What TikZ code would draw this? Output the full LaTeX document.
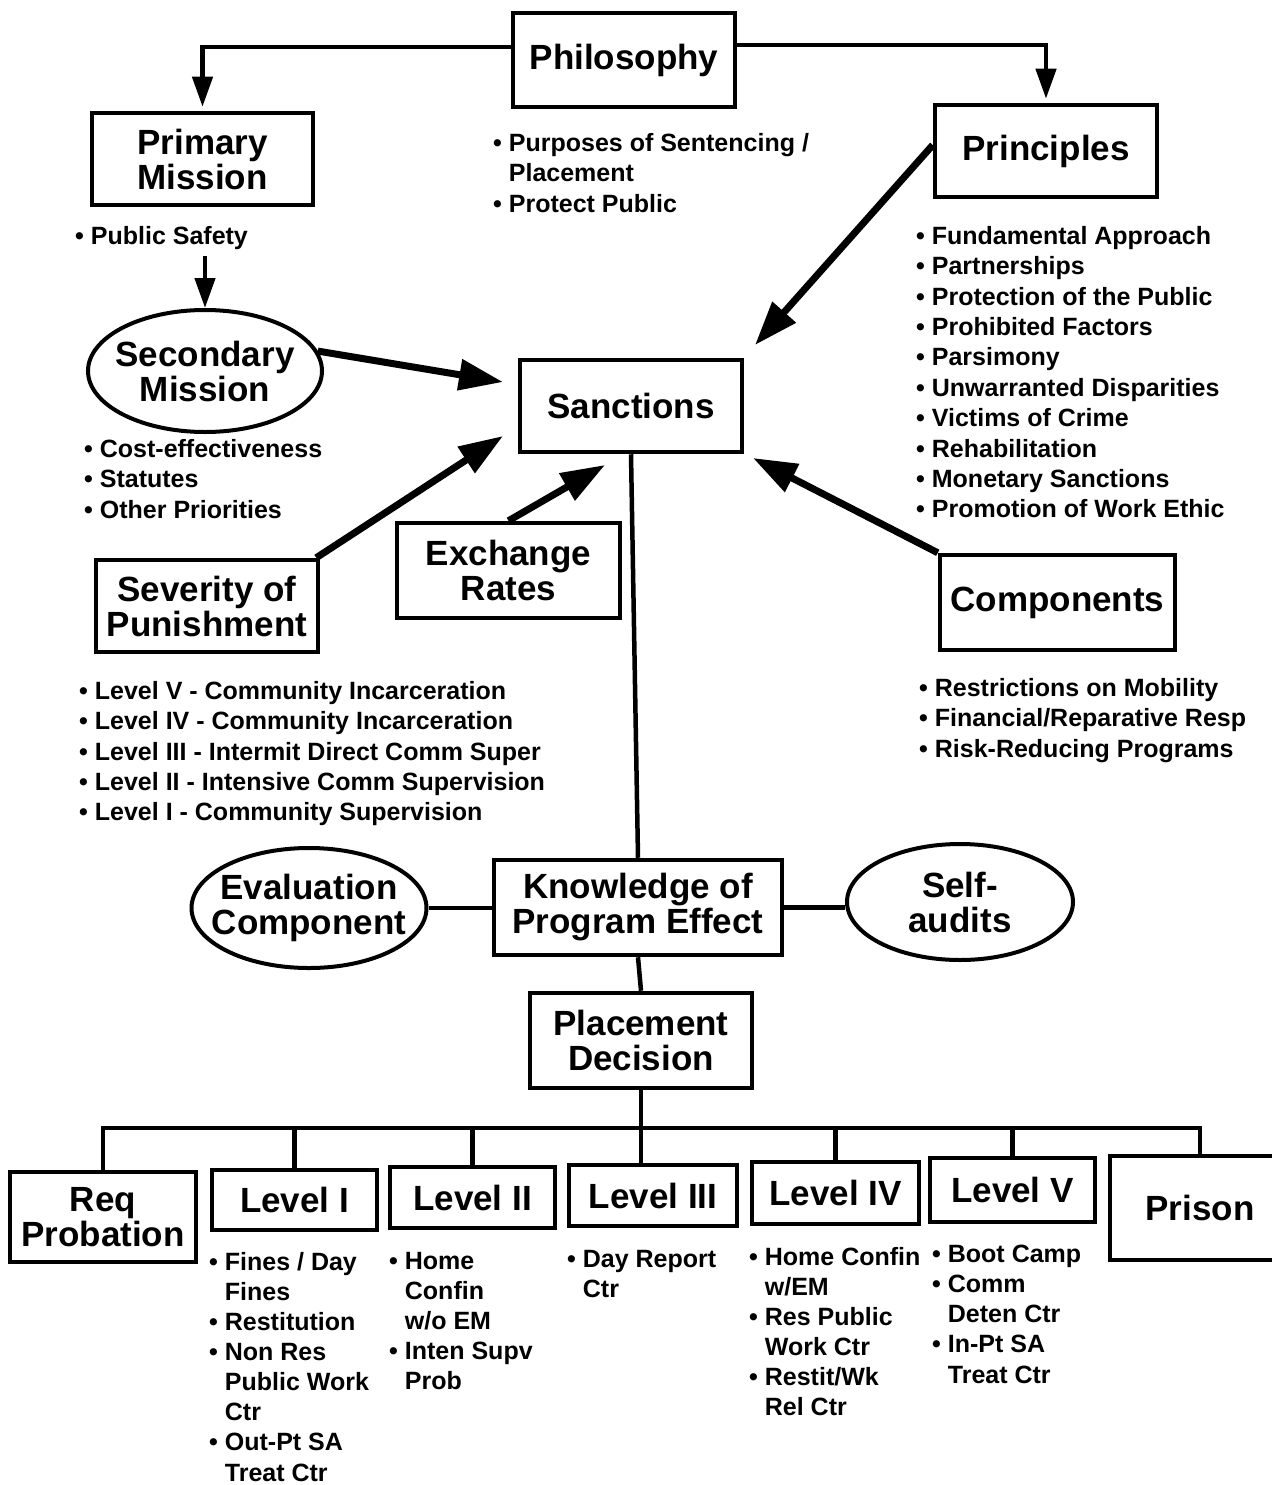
\documentclass[tikz,border=0pt]{standalone}
\usepackage{fontspec}
\setmainfont{Liberation Sans}
\usetikzlibrary{arrows.meta,shapes.geometric}
\newcommand\ttlfont{\bfseries\fontsize{35}{35}\selectfont}
\newcommand\bulfont{\bfseries\fontsize{25}{30.4}\selectfont}
\newcommand\botfont{\bfseries\fontsize{25}{30.1}\selectfont}
\newcommand\bl{\textbullet\ }
\newcommand\hi{\hphantom{\textbullet\ }}
\begin{document}
\begin{tikzpicture}[x=1pt,y=-1pt,
  box/.style={draw, line width=4.5pt, inner sep=0pt, align=center, font=\ttlfont},
  oval/.style={draw, ellipse, line width=4pt, inner xsep=-70pt, inner ysep=-25pt, align=center, font=\ttlfont},
  blist/.style={anchor=north west, inner sep=0pt, align=left, font=\bulfont},
  blistb/.style={anchor=north west, inner sep=0pt, align=left, font=\botfont},
  conn/.style={line width=4.5pt},
  bigarrow/.style={line width=7pt, -{Triangle[length=44pt,width=30pt]}},
  thinarrow/.style={line width=4.5pt, -{Triangle[length=30pt,width=20pt]}},
]
\useasboundingbox[fill=white] (0,0) rectangle (1271,1485);

% top boxes
\node[box, minimum width=222pt, minimum height=94pt] (phil) at (624,60) {Philosophy};
\node[box, minimum width=221pt, minimum height=92pt] (pm) at (202.5,159) {Primary\\Mission};
\node[box, minimum width=222pt, minimum height=92pt] (pr) at (1046,151) {Principles};
\node[box, minimum width=222pt, minimum height=92pt] (sanc) at (631,406) {Sanctions};
\node[box, minimum width=223pt, minimum height=95pt] (ex) at (508.5,570.5) {Exchange\\Rates};
\node[box, minimum width=222pt, minimum height=92pt] (sev) at (207,606) {Severity of\\Punishment};
\node[box, minimum width=235pt, minimum height=95pt] (comp) at (1057.5,602.5) {Components};
\node[oval, minimum width=234pt, minimum height=122pt] (sec) at (205,371) {Secondary\\Mission};

% middle
\node[box, minimum width=288pt, minimum height=95pt] (know) at (638,907.5) {Knowledge of\\Program Effect};
\node[oval, minimum width=235pt, minimum height=120pt] (eval) at (309,908) {Evaluation\\Component};
\node[oval, minimum width=226pt, minimum height=116pt] (self) at (960,902) {Self-\\audits};
\node[box, minimum width=222pt, minimum height=95pt] (place) at (641,1040.5) {Placement\\Decision};

% bottom row
\node[box, minimum width=186pt, minimum height=90pt] (req) at (103,1217) {Req\\Probation};
\node[box, minimum width=165pt, minimum height=60pt] (l1) at (294.5,1200) {Level I};
\node[box, minimum width=165pt, minimum height=61pt] (l2) at (472.5,1197.5) {Level II};
\node[box, minimum width=168pt, minimum height=61pt] (l3) at (653,1195.5) {Level III};
\node[box, minimum width=167pt, minimum height=62pt] (l4) at (835.5,1193) {Level IV};
\node[box, minimum width=165pt, minimum height=64pt] (l5) at (1012.5,1190) {Level V};
\node[box, minimum width=180pt, minimum height=104pt] (prison) at (1200,1208) {Prison};

% bullet lists
\node[blist] (psb) at (75,226) {\bl Public Safety};
\node[blist] (phb) at (493,133) {\bl Purposes of Sentencing /\\\hi Placement\\\bl Protect Public};
\node[blist] (prb) at (916,226) {\bl Fundamental Approach\\\bl Partnerships\\\bl Protection of the Public\\\bl Prohibited Factors\\\bl Parsimony\\\bl Unwarranted Disparities\\\bl Victims of Crime\\\bl Rehabilitation\\\bl Monetary Sanctions\\\bl Promotion of Work Ethic};
\node[blist] (secb) at (84,439) {\bl Cost-effectiveness\\\bl Statutes\\\bl Other Priorities};
\node[blist] (sevb) at (79,681) {\bl Level V - Community Incarceration\\\bl Level IV - Community Incarceration\\\bl Level III - Intermit Direct Comm Super\\\bl Level II - Intensive Comm Supervision\\\bl Level I - Community Supervision};
\node[blist] (compb) at (919,678) {\bl Restrictions on Mobility\\\bl Financial/Reparative Resp\\\bl Risk-Reducing Programs};
\node[blistb] (l1b) at (209,1252) {\bl Fines / Day\\\hi Fines\\\bl Restitution\\\bl Non Res\\\hi Public Work\\\hi Ctr\\\bl Out-Pt SA\\\hi Treat Ctr};
\node[blistb] (l2b) at (389,1252) {\bl Home\\\hi Confin\\\hi w/o EM\\\bl Inten Supv\\\hi Prob};
\node[blistb] (l3b) at (567,1250) {\bl Day Report\\\hi Ctr};
\node[blistb] (l4b) at (749,1247) {\bl Home Confin\\\hi w/EM\\\bl Res Public\\\hi Work Ctr\\\bl Restit/Wk\\\hi Rel Ctr};
\node[blistb] (l5b) at (932,1245) {\bl Boot Camp\\\bl Comm\\\hi Deten Ctr\\\bl In-Pt SA\\\hi Treat Ctr};

% arrows from Philosophy
\draw[thinarrow, shorten >=4pt] (phil.west |- 0,47) -| (pm.north);
\draw[thinarrow, shorten >=4pt] (phil.east |- 0,45) -| (pr.north);
\coordinate (psarr) at (205,256);
\draw[thinarrow] (psarr) -- (sec.north);

% arrows into Sanctions
\coordinate (tA) at (503,382);
\coordinate (tB) at (503,436);
\coordinate (tC) at (605,465);
\coordinate (tD) at (755,345);
\coordinate (tE) at (753,458);
\draw[bigarrow] (sec.10) -- (tA);
\draw[bigarrow] ([xshift=-4pt]sev.north east) -- (tB);
\draw[bigarrow] (ex.north) -- (tC);
\draw[bigarrow] ([yshift=6pt]pr.west) -- (tD);
\draw[bigarrow] (comp.north west) -- (tE);

% plain connectors
\draw[conn] (sanc.south) -- (know.north);
\draw[conn] (eval.east) -- (eval.east -| know.west);
\draw[conn] (know.east) -- (know.east -| self.west);
\draw[conn] (know.south) -- (place.north);

\coordinate (bus) at (641,1128);
\draw[conn] (req.north) |- (bus) -| (prison.north);
\draw[conn] (place.south) -- (place.south |- l3.north);
\draw[conn] (l1.north) -- (l1.north |- bus);
\draw[conn] (l2.north) -- (l2.north |- bus);
\draw[conn] (l4.north) -- (l4.north |- bus);
\draw[conn] (l5.north) -- (l5.north |- bus);
\end{tikzpicture}
\end{document}
